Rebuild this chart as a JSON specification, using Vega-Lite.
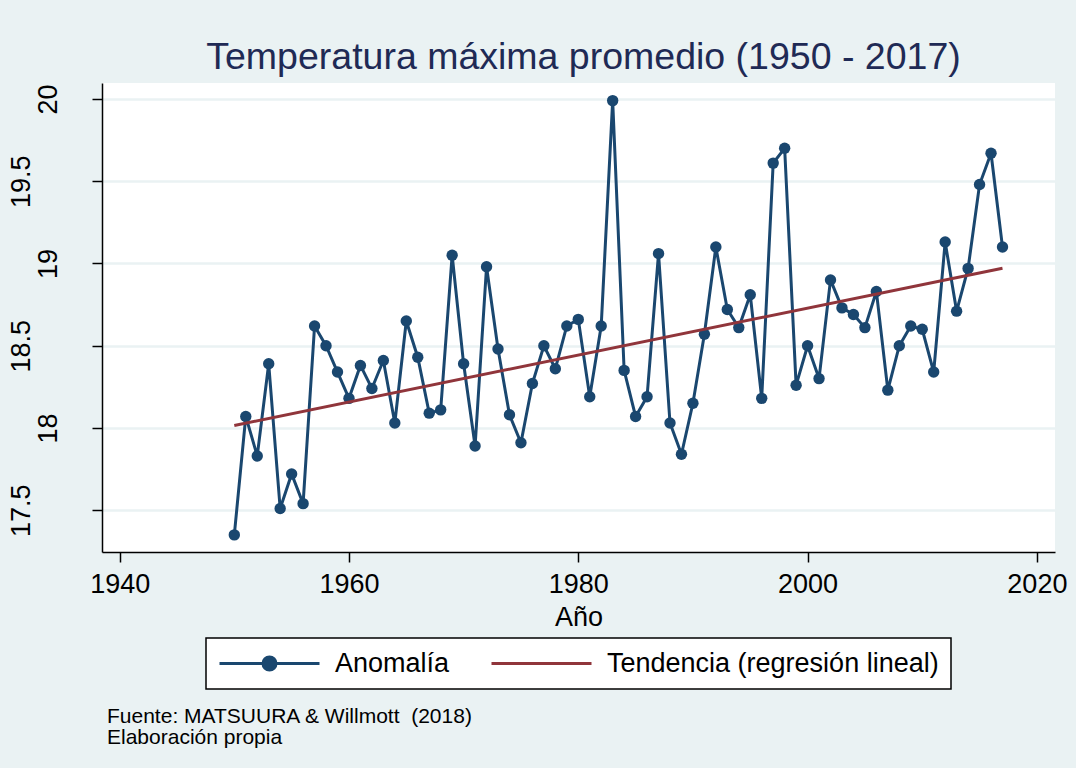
{
  "$schema": "https://vega.github.io/schema/vega-lite/v6.json",
  "background": "#EAF2F3",
  "padding": {"left": 7, "top": 38, "right": 10, "bottom": 20},
  "config": {
    "font": "Liberation Sans",
    "view": {"fill": "white", "stroke": null},
    "axis": {"domainColor": "black", "domainWidth": 1.5, "tickColor": "black", "tickWidth": 1.5, "labelColor": "black", "titleColor": "black", "labelFont": "Liberation Sans", "titleFont": "Liberation Sans"},
    "legend": {"labelFont": "Liberation Sans", "layout": {"bottom": {"anchor": "middle"}}}
  },
  "resolve": {"legend": {"color": "independent"}, "scale": {"color": "independent"}},
  "title": {
    "text": "Temperatura máxima promedio (1950 - 2017)",
    "anchor": "middle",
    "frame": "group",
    "fontSize": 37.5,
    "fontWeight": "normal",
    "color": "#1F2A55",
    "font": "Liberation Sans",
    "offset": 7,
    "dx": 5
  },
  "vconcat": [
    {
      "width": 953,
      "height": 469,
      "title": {
        "text": ["Fuente: MATSUURA & Willmott\u00a0 (2018)", "Elaboración propia"],
        "orient": "bottom",
        "anchor": "start",
        "frame": "group",
        "fontSize": 21,
        "fontWeight": "normal",
        "color": "black",
        "font": "Liberation Sans",
        "lineHeight": 21,
        "offset": 16,
        "dx": 5
      },
      "data": {
        "values": [
          {"year": 1950, "temp": 17.35}, {"year": 1951, "temp": 18.07}, {"year": 1952, "temp": 17.83}, {"year": 1953, "temp": 18.39},
          {"year": 1954, "temp": 17.51}, {"year": 1955, "temp": 17.72}, {"year": 1956, "temp": 17.54}, {"year": 1957, "temp": 18.62},
          {"year": 1958, "temp": 18.50}, {"year": 1959, "temp": 18.34}, {"year": 1960, "temp": 18.18}, {"year": 1961, "temp": 18.38},
          {"year": 1962, "temp": 18.24}, {"year": 1963, "temp": 18.41}, {"year": 1964, "temp": 18.03}, {"year": 1965, "temp": 18.65},
          {"year": 1966, "temp": 18.43}, {"year": 1967, "temp": 18.09}, {"year": 1968, "temp": 18.11}, {"year": 1969, "temp": 19.05},
          {"year": 1970, "temp": 18.39}, {"year": 1971, "temp": 17.89}, {"year": 1972, "temp": 18.98}, {"year": 1973, "temp": 18.48},
          {"year": 1974, "temp": 18.08}, {"year": 1975, "temp": 17.91}, {"year": 1976, "temp": 18.27}, {"year": 1977, "temp": 18.50},
          {"year": 1978, "temp": 18.36}, {"year": 1979, "temp": 18.62}, {"year": 1980, "temp": 18.66}, {"year": 1981, "temp": 18.19},
          {"year": 1982, "temp": 18.62}, {"year": 1983, "temp": 19.99}, {"year": 1984, "temp": 18.35}, {"year": 1985, "temp": 18.07},
          {"year": 1986, "temp": 18.19}, {"year": 1987, "temp": 19.06}, {"year": 1988, "temp": 18.03}, {"year": 1989, "temp": 17.84},
          {"year": 1990, "temp": 18.15}, {"year": 1991, "temp": 18.57}, {"year": 1992, "temp": 19.10}, {"year": 1993, "temp": 18.72},
          {"year": 1994, "temp": 18.61}, {"year": 1995, "temp": 18.81}, {"year": 1996, "temp": 18.18}, {"year": 1997, "temp": 19.61},
          {"year": 1998, "temp": 19.70}, {"year": 1999, "temp": 18.26}, {"year": 2000, "temp": 18.50}, {"year": 2001, "temp": 18.30},
          {"year": 2002, "temp": 18.90}, {"year": 2003, "temp": 18.73}, {"year": 2004, "temp": 18.69}, {"year": 2005, "temp": 18.61},
          {"year": 2006, "temp": 18.83}, {"year": 2007, "temp": 18.23}, {"year": 2008, "temp": 18.50}, {"year": 2009, "temp": 18.62},
          {"year": 2010, "temp": 18.60}, {"year": 2011, "temp": 18.34}, {"year": 2012, "temp": 19.13}, {"year": 2013, "temp": 18.71},
          {"year": 2014, "temp": 18.97}, {"year": 2015, "temp": 19.48}, {"year": 2016, "temp": 19.67}, {"year": 2017, "temp": 19.10}
        ]
      },
      "layer": [
        {
          "mark": {"type": "line", "strokeWidth": 3},
          "encoding": {
            "x": {
              "field": "year", "type": "quantitative",
              "scale": {"domain": [1938.46, 2021.58], "nice": false, "zero": false},
              "axis": {
                "values": [1940, 1960, 1980, 2000, 2020], "format": "d", "grid": false,
                "labelFontSize": 27, "labelFlush": false, "labelPadding": 9, "tickSize": 10,
                "title": "Año", "titleFontSize": 27, "titleFontWeight": "normal", "titlePadding": 7
              }
            },
            "y": {
              "field": "temp", "type": "quantitative",
              "scale": {"domain": [17.246, 20.097], "nice": false, "zero": false},
              "axis": {
                "values": [17.5, 18, 18.5, 19, 19.5, 20], "format": "~g",
                "grid": true, "gridColor": "#EAF2F3", "gridWidth": 2.5, "gridOpacity": 1,
                "labelFontSize": 27, "labelAngle": 270, "labelAlign": "center", "labelBaseline": "alphabetic",
                "labelPadding": {"condition": {"test": "datum.value % 1 !== 0", "value": 63}, "value": 36},
                "labelOverlap": false, "tickSize": 10, "title": null
              }
            },
            "color": {
              "datum": "Anomalía",
              "scale": {"domain": ["Anomalía", "Tendencia (regresión lineal)"], "range": ["#1A476F", "#90353B"]},
              "legend": {
                "orient": "bottom", "direction": "horizontal", "title": null,
                "padding": 12, "strokeColor": "black", "fillColor": "white", "cornerRadius": 0, "offset": 8,
                "labelFontSize": 27, "labelColor": "black", "labelLimit": 600, "labelOffset": 14,
                "symbolSize": 10000, "clipHeight": 27, "columnPadding": 40, "symbolStrokeWidth": 3,
                "encode": {
                  "legend": {"update": {"strokeWidth": {"value": 1.5}}},
                  "symbols": {"update": {
                    "shape": {"signal": "datum.value === 'Anomalía' ? 'M-1,0H1M-0.13,0A0.13,0.13 0 1,0 0.13,0A0.13,0.13 0 1,0 -0.13,0' : 'M-1,0H1'"},
                    "fill": {"signal": "datum.value === 'Anomalía' ? '#1A476F' : 'transparent'"},
                    "stroke": {"signal": "datum.value === 'Anomalía' ? '#1A476F' : '#90353B'"},
                    "strokeWidth": {"value": 3},
                    "opacity": {"value": 1}
                  }}
                }
              }
            }
          }
        },
        {
          "mark": {"type": "point", "filled": true, "size": 130, "opacity": 1},
          "encoding": {
            "x": {"field": "year", "type": "quantitative"},
            "y": {"field": "temp", "type": "quantitative"},
            "color": {"datum": "Anomalía"}
          }
        },
        {
          "transform": [{"regression": "temp", "on": "year"}],
          "mark": {"type": "line", "strokeWidth": 3},
          "encoding": {
            "x": {"field": "year", "type": "quantitative"},
            "y": {"field": "temp", "type": "quantitative"},
            "color": {"datum": "Tendencia (regresión lineal)"}
          }
        }
      ]
    }
  ]
}
